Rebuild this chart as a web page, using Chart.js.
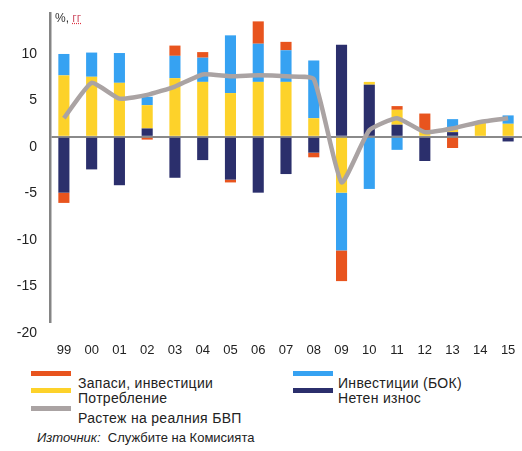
<!DOCTYPE html>
<html>
<head>
<meta charset="utf-8">
<script src="https://cdn.jsdelivr.net/npm/chart.js@4"></script>
<style>
  body { margin: 0; background: #fff; font-family: "Liberation Sans", Arial, sans-serif; }
  #wrap { position: relative; width: 522px; height: 451px; }
  #chart { position: absolute; left: 0; top: 0; }
  .unit { position: absolute; left: 55px; top: 11px; font-size: 12px; color: #333; }
  .unit span { color: #d0566a; text-decoration: underline dotted #e03040; }
  .sw { position: absolute; width: 40px; height: 5px; }
  .lg { position: absolute; font-size: 14px; color: #222; white-space: nowrap; letter-spacing: 0.3px; }
  .src { position: absolute; left: 37px; top: 430px; font-size: 13px; color: #222; white-space: nowrap; }
</style>
</head>
<body>
<div id="wrap">
  <canvas id="chart" width="522" height="365"></canvas>
  <div class="unit">%, <span>гг</span></div>

  <div class="sw" style="left:31px;top:371px;background:#e8541e"></div>
  <div class="lg" style="left:78px;top:375px">Запаси, инвестиции</div>
  <div class="sw" style="left:31px;top:388px;background:#fdd22a"></div>
  <div class="lg" style="left:78px;top:390px">Потребление</div>
  <div class="sw" style="left:31px;top:406px;background:#aaa3a3"></div>
  <div class="lg" style="left:78px;top:410px">Растеж на реалния БВП</div>

  <div class="sw" style="left:293px;top:371px;background:#36a2f2"></div>
  <div class="lg" style="left:338px;top:375px">Инвестиции (БОК)</div>
  <div class="sw" style="left:293px;top:388px;background:#2b2f6c"></div>
  <div class="lg" style="left:338px;top:390px">Нетен износ</div>

  <div class="src"><i>Източник:</i>&nbsp; Службите на Комисията</div>
</div>
<script>
const years = ['99', '00', '01', '02', '03', '04', '05', '06', '07', '08', '09', '10', '11', '12', '13', '14', '15'];
const netExports = [-6.0, -3.5, -5.2, 0.9, -4.4, -2.5, -4.6, -6.0, -4.0, -1.7, 9.9, 5.6, 1.3, -2.6, 0.5, 0, -0.5];
const consumption = [6.6, 6.45, 5.8, 2.5, 6.3, 5.9, 4.7, 5.9, 5.9, 2.0, -6.0, 0.3, 1.6, 0.6, 0.3, 1.5, 1.4];
const investment = [2.3, 2.6, 3.2, 0.9, 2.4, 2.6, 6.2, 4.1, 3.4, 6.2, -6.2, -5.6, -1.4, 0, 1.1, 0, 0.9];
const inventories = [-1.1, 0, 0, -0.3, 1.1, 0.6, -0.3, 2.4, 0.9, -0.5, -3.3, 0, 0.4, 1.9, -1.2, 0, 0];
const gdpGrowth = [2.0, 5.8, 4.1, 4.5, 5.4, 6.7, 6.5, 6.6, 6.5, 6.2, -4.9, 0.7, 2.0, 0.5, 0.9, 1.6, 2.0];
const yTicks = [-20, -15, -10, -5, 0, 5, 10];

const bar = (label, data, color) => ({
  type: 'bar', label, data, backgroundColor: color, stack: 'parts', order: 1,
  barPercentage: 0.4, categoryPercentage: 1
});

new Chart(document.getElementById('chart'), {
  data: {
    labels: years,
    datasets: [
      {
        type: 'line', label: 'Растеж на реалния БВП', data: gdpGrowth, stack: 'gdp', order: 0,
        borderColor: '#aaa3a3', borderWidth: 4.5, pointRadius: 0, tension: 0.15, fill: false
      },
      bar('Нетен износ', netExports, '#2b2f6c'),
      bar('Потребление', consumption, '#fdd22a'),
      bar('Инвестиции (БОК)', investment, '#36a2f2'),
      bar('Запаси, инвестиции', inventories, '#e8541e')
    ]
  },
  options: {
    responsive: false,
    animation: false,
    layout: { padding: { top: 13, right: 0, left: 0, bottom: 0 } },
    plugins: { legend: { display: false }, tooltip: { enabled: false } },
    scales: {
      x: {
        stacked: true,
        // ticks drawn invisible so the labels sit low like in the original
        grid: { drawOnChartArea: false, drawTicks: true, tickLength: 17, tickColor: 'rgba(0,0,0,0)' },
        border: { display: false },
        ticks: { padding: 3, color: '#222', font: { family: 'Liberation Sans', size: 13 } },
        afterFit: s => { s.height = 42; }
      },
      y: {
        stacked: true,
        min: -20, max: 13.3,
        afterBuildTicks: s => { s.ticks = yTicks.map(v => ({ value: v })); },
        grid: {
          drawTicks: true, tickLength: 10, tickColor: 'rgba(0,0,0,0)',
          color: c => c.tick && c.tick.value === 0 ? '#8a8a8a' : 'rgba(0,0,0,0)',
          lineWidth: c => c.tick && c.tick.value === 0 ? 2 : 0
        },
        border: { display: true, color: '#858585', width: 2.5 },
        ticks: { padding: 3, labelOffset: 10, color: '#222', font: { family: 'Liberation Sans', size: 14 } },
        afterFit: s => { s.width = 50; }
      }
    }
  }
});
</script>
</body>
</html>
